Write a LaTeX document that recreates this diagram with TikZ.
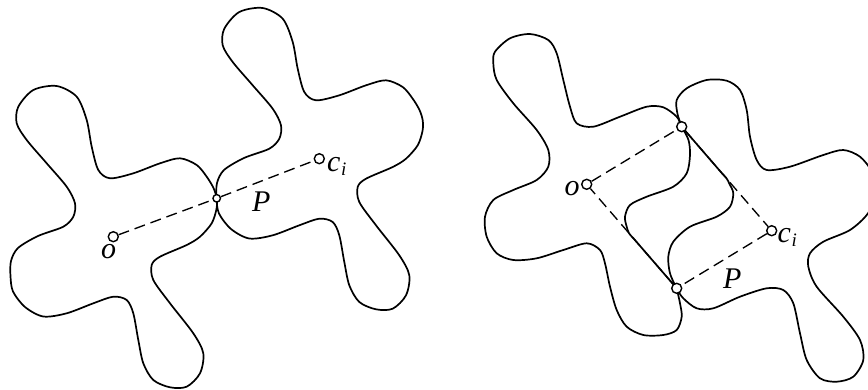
\documentclass[tikz,border=0pt]{standalone}
\usepackage{fontspec}
\setmainfont{Liberation Serif}
\usetikzlibrary{calc}
\begin{document}
\begin{tikzpicture}[x=1pt,y=-1pt,
  blob/.style={line width=1.7pt, line join=round},
  pt/.style={circle, draw, line width=1.4pt, fill=white, inner sep=0pt, minimum size=10pt},
  ptsmall/.style={pt, minimum size=7.5pt},
  dashline/.style={line width=1.35pt, dash pattern=on 11pt off 6pt},
  lbl/.style={font=\fontsize{30}{32}\selectfont\itshape, inner sep=0pt, anchor=base west}
]
\useasboundingbox (0,0) rectangle (868,389);
\begin{scope}
\clip (0,0) rectangle (868,389);
% ---------- left figure ----------
\draw[blob] plot[smooth cycle] coordinates {
(216.7,198.3) (213.5,188) (206.7,176.7) (196.7,165) (180,158.3) (160,163.3)
(133.3,173.3) (110,178.3) (98.3,170) (91.7,146.7) (86.7,120) (76.7,96.7)
(56.7,86) (33.3,90) (18.3,106.7) (16.7,123.3) (26.7,140) (46.7,163.3)
(66.7,186.7) (75,203.3) (73.3,216.7) (63.3,226.7) (38,236) (18,248)
(11,261) (10.5,276.3) (13,291.5) (25,307) (43.3,316.5) (66.7,313.3)
(93.3,303.3) (113.3,296.7) (126.7,300) (133.3,313.3) (138.3,340) (143.3,363.3)
(153.3,380) (170,387.3) (186.7,386.7) (200,373.3) (203.3,353.3) (193.3,333.3)
(170,303.3) (153.3,280) (151.7,265) (160,256.7) (186.7,245) (200,236.7)
(211.7,223.3) (216.5,209)};
\draw[blob, shift={(206,-78)}] plot[smooth cycle] coordinates {
(216.7,198.3) (213.5,188) (206.7,176.7) (196.7,165) (180,158.3) (160,163.3)
(133.3,173.3) (110,178.3) (98.3,170) (91.7,146.7) (86.7,120) (76.7,96.7)
(56.7,86) (33.3,90) (18.3,106.7) (16.7,123.3) (26.7,140) (46.7,163.3)
(66.7,186.7) (75,203.3) (73.3,216.7) (63.3,226.7) (38,236) (18,248)
(11,261) (10.5,276.3) (13,291.5) (25,307) (43.3,316.5) (66.7,313.3)
(93.3,303.3) (113.3,296.7) (126.7,300) (133.3,313.3) (138.3,340) (143.3,363.3)
(153.3,380) (170,387.3) (186.7,386.7) (200,373.3) (203.3,353.3) (193.3,333.3)
(170,303.3) (153.3,280) (151.7,265) (160,256.7) (186.7,245) (200,236.7)
(211.7,223.3) (216.5,209)};
% ---------- right figure ----------
\draw[blob] plot[smooth] coordinates {
(676.7,288.3) (680,303.3) (681.7,316.7) (676.7,330) (663.3,335) (643.3,335)
(626.7,326.7) (616.7,310) (610,286.7) (605,263.3) (600,250) (586.7,243.3)
(563.3,250) (536.7,258.3) (513.3,260) (496.7,253.3) (486.7,236.7) (485,216.7)
(493.3,200) (513.3,190) (536.7,180) (548.3,166.7) (548.3,150) (536.7,130)
(513.3,103.3) (496.7,80) (493.3,63.3) (495,51.7) (510,38.3) (530,34)
(548.3,40) (556.7,53.3) (563.3,80) (570,106.7) (576.7,123.3) (593.3,126.7)
(620,116.7) (646.7,106.7) (663.3,107.3) (676.7,116.7) (681.7,126.7) (688.5,140)
(690,155) (686.7,173.3) (673.3,186.7) (646.7,196.7) (630,205) (625,216.7)
(626.5,226) (629,233.2) (633.5,238.4)} -- cycle;
\draw[blob] plot[smooth] coordinates {
(681.7,126.7) (677.5,114) (676.7,100) (686.7,88.3) (706.7,80) (726.7,80.7)
(740,90) (746.7,110) (750,136.7) (756.7,160) (766.7,170) (790,166.7)
(823.3,155) (843.3,150) (860,156.7) (872,172) (876,192) (868,213.3)
(850,230) (823.3,241.7) (810,253.3) (808.3,266.7) (816.7,286.7) (843.3,316.7)
(860,340) (863.3,360) (853.3,376.7) (836.7,381.7) (820,378.3) (806.7,360)
(800,333.3) (793.3,303.3) (783.3,290) (766.7,288.3) (740,296.7) (713.3,308.3)
(696.7,308.3) (683.3,298.3) (676.7,288.3) (670,273.3) (668.3,256.7) (673.3,241.7)
(690,226.7) (716.7,216.7) (730,206.7) (733.3,193.3) (729.5,184) (726.6,178.4)
(721.9,173.2)} -- cycle;
\end{scope}
% ---------- points ----------
\node[pt] (o1) at (113.3,236.7) {};
\node[ptsmall] (P1) at (216.7,198.3) {};
\node[pt] (c1) at (319.3,158.7) {};
\node[pt] (o2) at (586.7,184.3) {};
\node[pt] (T2) at (681.7,126.7) {};
\node[pt] (P2) at (676.7,288.3) {};
\node[pt] (c2) at (771.7,230.7) {};
% ---------- dashed connectors ----------
\draw[dashline] (o1) -- (P1);
\draw[dashline] (P1) -- (c1);
\draw[dashline] (o2) -- (T2);
\draw[dashline] (T2) -- (c2);
\draw[dashline] (c2) -- (P2);
\draw[dashline] (P2) -- (o2);
% ---------- labels ----------
\node[lbl] (lo1) at (101,258) {o};
\node[lbl] (lP1) at (252,211.5) {P};
\node[lbl] (lc1) at (327,171.5) {c\kern0.5pt\raisebox{-4pt}{\fontsize{19}{20}\selectfont i}};
\node[lbl] (lo2) at (564.5,195) {o};
\node[lbl] (lP2) at (723,288) {P};
\node[lbl] (lc2) at (777.5,242.5) {c\kern0.5pt\raisebox{-4pt}{\fontsize{19}{20}\selectfont i}};
\end{tikzpicture}
\end{document}
